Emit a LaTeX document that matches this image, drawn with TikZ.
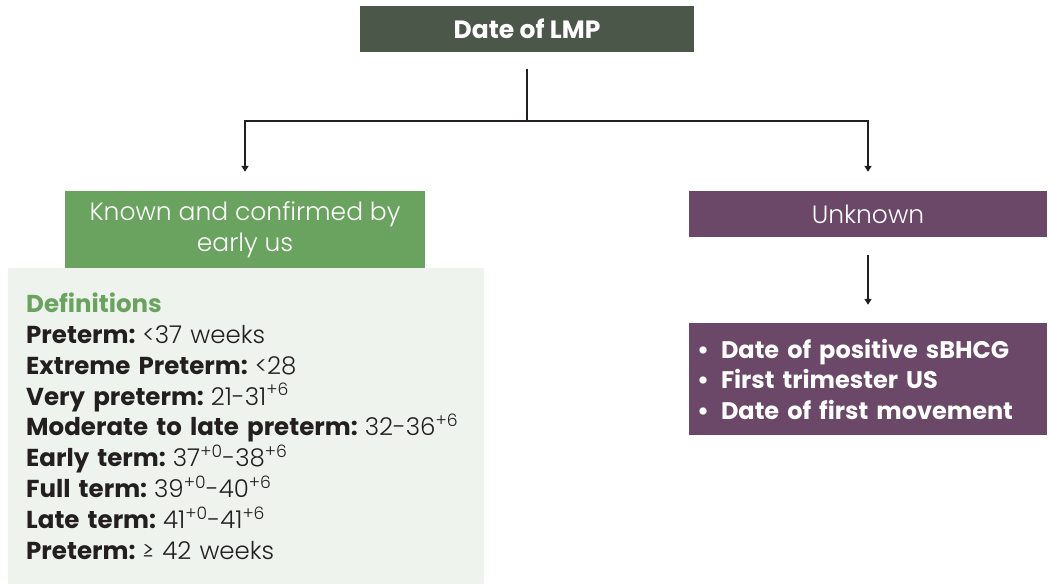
\documentclass[tikz,border=0pt]{standalone}
\usepackage{fontspec}
\setmainfont{Poppins}
\newfontfamily\lightfont{Poppins Light}
\usetikzlibrary{arrows.meta}
\definecolor{lmpgreen}{HTML}{4B5749}
\definecolor{knowngreen}{HTML}{6AA35F}
\definecolor{panelgreen}{HTML}{EEF3ED}
\definecolor{plum}{HTML}{6B4868}
\definecolor{ink}{HTML}{231F20}
\newcommand{\wk}[1]{\textsuperscript{#1}}
\newcommand{\term}[2]{\textbf{#1}\hspace{7pt}{\lightfont #2}}
\tikzset{
  box/.style={rectangle, inner sep=0pt, text=white, align=center},
  conn/.style={draw=ink, line width=1.6pt},
  tip/.style={-{Triangle[width=7pt,length=6pt]}},
}
\begin{document}
\begin{tikzpicture}[x=1pt,y=-1pt]
\useasboundingbox (0,0) rectangle (1049,584);
% root
\node[box, fill=lmpgreen, minimum width=334pt, minimum height=46pt,
      font=\fontsize{25}{30}\selectfont\bfseries] (lmp) at (527,28.5) {Date of LMP};
% left branch
\node[box, fill=knowngreen, minimum width=360pt, minimum height=77pt,
      font=\fontsize{25}{31}\selectfont\lightfont] (known) at (245,229.5) {Known and confirmed by\\early us};
\node[rectangle, fill=panelgreen, minimum width=476pt, minimum height=316pt,
      text width=440pt, inner xsep=18pt, inner ysep=0pt, align=left, text=ink,
      font=\fontsize{24.5}{30.9}\selectfont, anchor=north west] (defs) at (8,268)
  {{\bfseries\color{knowngreen}Definitions}\\
   \term{Preterm:}{<37 weeks}\\
   \term{Extreme Preterm:}{<28}\\
   \term{Very preterm:}{21-31\wk{+6}}\\
   \term{Moderate to late preterm:}{32-36\wk{+6}}\\
   \term{Early term:}{37\wk{+0}-38\wk{+6}}\\
   \term{Full term:}{39\wk{+0}-40\wk{+6}}\\
   \term{Late term:}{41\wk{+0}-41\wk{+6}}\\
   \term{Preterm:}{≥ 42 weeks}};
% right branch
\node[box, fill=plum, minimum width=358pt, minimum height=46pt,
      font=\fontsize{25}{30}\selectfont\lightfont] (unknown) at (868,214) {Unknown};
\node[rectangle, fill=plum, minimum width=358pt, minimum height=112pt,
      text width=342pt, inner xsep=8pt, inner ysep=0pt, align=left, text=white,
      font=\fontsize{24}{30.5}\selectfont\bfseries] (methods) at (868,379)
  {•\, Date of positive sBHCG\\
   •\, First trimester US\\
   •\, Date of first movement};
% connectors
\coordinate (split) at (527,121);
\draw[conn, shorten <=17pt] (lmp.south) -- (split);
\draw[conn, tip, shorten >=19pt] (split) -| (known.north);
\draw[conn, tip, shorten >=19pt] (split) -| (unknown.north);
\draw[conn, tip, shorten <=18pt, shorten >=18pt] (unknown.south) -- (methods.north);
\end{tikzpicture}
\end{document}
